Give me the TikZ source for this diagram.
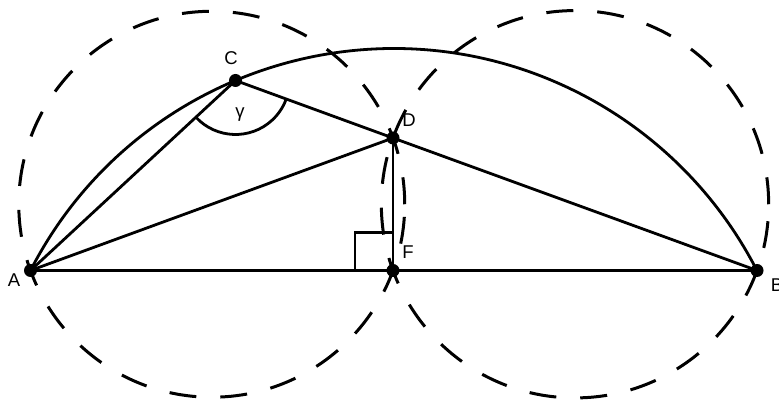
\documentclass[tikz,border=0pt]{standalone}
\usepackage{fontspec}
\setmainfont{Liberation Sans}
\usetikzlibrary{calc,angles}
\begin{document}
\begin{tikzpicture}[x=1pt,y=1pt,
  solidline/.style={line width=2.8pt},
  dashcircle/.style={line width=3pt, dash pattern=on 27pt off 24pt},
  dot/.style={circle, fill=black, inner sep=0pt, minimum size=13pt},
  lbl/.style={inner sep=0pt, font=\fontsize{18.5}{20}\selectfont}]
\useasboundingbox (0,0) rectangle (779,401);
\coordinate (A) at (30.5,130.5);
\coordinate (B) at (757,130.5);
\coordinate (F) at (393,130.5);
\coordinate (D) at (393,263);
\coordinate (C) at (235.5,320.5);
% dashed circles with diameters AD and DB
\draw[dashcircle] let \p1=($(D)-(A)$), \n1={veclen(\x1,\y1)/2} in ($(A)!0.5!(D)$) circle[radius=\n1];
\draw[dashcircle] let \p1=($(B)-(D)$), \n1={veclen(\x1,\y1)/2} in ($(D)!0.5!(B)$) circle[radius=\n1];
% big arc through A, C, B
\draw[solidline] (A) arc[start angle=152.85, end angle=27.15, radius=408.2];
% lines
\draw[solidline] (A) -- (B);
\draw[solidline] (A) -- (C) -- (D) -- (B);
\draw[solidline] (A) -- (D);
\draw[solidline] (D) -- (F);
% right angle mark
\draw[line width=2.4pt] ($(F)+(-38,0)$) |- ($(F)+(0,38)$);
% angle gamma
\pic[draw, solidline, angle radius=54pt] {angle=A--C--D};
% dots
\foreach \p in {A,B,C,D,F} \node[dot] (dot\p) at (\p) {};
% labels
\node[lbl] (lA) at (14,120.5) {A};
\node[lbl] (lB) at (777,116) {B};
\node[lbl] (lC) at (231,343) {C};
\node[lbl] (lD) at (409,281) {D};
\node[lbl] (lF) at (408,149) {F};
\node[lbl] (lg) at (240,286) {γ};
\end{tikzpicture}
\end{document}
